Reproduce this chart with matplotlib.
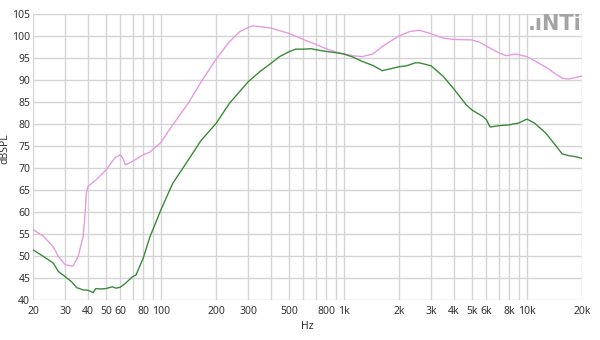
import numpy as np
import matplotlib
matplotlib.use('Agg')
import matplotlib.pyplot as plt
from matplotlib.ticker import FixedLocator, NullFormatter

plt.rcParams['font.family'] = ['Noto Sans', 'DejaVu Sans']

# pink trace (freq in Hz, level in dB SPL)
freq_pink = [20, 22.8, 25.8, 27.5, 30, 33, 35.3, 37.6, 38.4, 39.2, 40, 45, 50, 56.3, 60, 62,
             64, 70, 80, 87, 100, 116, 141, 166, 200, 237, 270, 300, 318, 350, 400, 445,
             500, 600, 700, 800, 900, 1000, 1120, 1260, 1440, 1620, 2000, 2290, 2580,
             3000, 3490, 4000, 5000, 5500, 6000, 7000, 7700, 8700, 10000, 11200, 12700,
             14300, 15600, 16900, 20000]
spl_pink = [56.0, 54.5, 52.1, 49.9, 48.0, 47.7, 49.9, 54.5, 58.8, 64.5, 65.8, 67.6, 69.5, 72.4,
            73.0, 72.2, 70.7, 71.5, 73.0, 73.6, 75.8, 79.8, 84.7, 89.6, 94.7, 98.7, 101.0,
            101.9, 102.3, 102.1, 101.8, 101.2, 100.6, 99.2, 98.1, 97.1, 96.4, 95.9, 95.5,
            95.3, 95.9, 97.6, 100.0, 101.0, 101.3, 100.5, 99.5, 99.2, 99.1, 98.6, 97.7,
            96.2, 95.5, 95.9, 95.3, 94.2, 92.9, 91.4, 90.4, 90.2, 90.9]

# green trace
freq_green = [20, 22.8, 25.8, 27.5, 30, 32.4, 34.7, 37.6, 40, 42.6, 44.1, 47, 50, 54.2, 56.8,
              60, 64, 70, 73.1, 80, 87, 100, 116, 141, 166, 200, 237, 300, 350, 400, 445,
              500, 545, 600, 660, 740, 800, 900, 1000, 1120, 1260, 1440, 1620, 1780, 2000,
              2190, 2460, 2580, 3000, 3490, 4000, 4650, 5000, 5740, 6000, 6300, 7000, 8000,
              9000, 10000, 11000, 12700, 14300, 15600, 16900, 18300, 20000]
spl_green = [51.4, 49.9, 48.4, 46.5, 45.3, 44.2, 42.8, 42.3, 42.2, 41.7, 42.6, 42.5, 42.6, 43.0,
             42.7, 42.9, 43.8, 45.3, 45.7, 49.5, 54.3, 60.5, 66.5, 71.8, 76.3, 80.1, 84.7,
             89.6, 92.0, 93.8, 95.3, 96.4, 97.0, 97.0, 97.1, 96.7, 96.5, 96.2, 95.9, 95.2,
             94.2, 93.3, 92.1, 92.5, 93.0, 93.2, 93.9, 93.9, 93.2, 90.8, 87.9, 84.4, 83.2,
             81.7, 81.0, 79.3, 79.6, 79.8, 80.2, 81.1, 80.2, 77.9, 75.2, 73.2, 72.8, 72.6,
             72.2]

xtick_vals = [20, 30, 40, 50, 60, 80, 100, 200, 300, 500, 800, 1000, 2000, 3000, 4000,
              5000, 6000, 8000, 10000, 20000]
xtick_labels = ['20', '30', '40', '50', '60', '80', '100', '200', '300', '500', '800', '1k',
                '2k', '3k', '4k', '5k', '6k', '8k', '10k', '20k']
xgrid_vals = [20, 30, 40, 50, 60, 70, 80, 90, 100, 200, 300, 400, 500, 600, 700, 800, 900,
              1000, 2000, 3000, 4000, 5000, 6000, 7000, 8000, 9000, 10000, 20000]

fig = plt.figure(figsize=(6, 3.4), dpi=100)
ax = fig.add_axes([0.055, 0.1176, 0.915, 0.8414])

# vertical grid lines drawn on every decade step
for g in xgrid_vals:
    ax.axvline(g, color='#d4d4d4', lw=1.0, zorder=0)

ax.plot(freq_pink, spl_pink, color='#e59be0', lw=1.0)
ax.plot(freq_green, spl_green, color='#3a8a3a', lw=1.0)

ax.set_xscale('log')
ax.set_xlim(20, 20000)
ax.set_ylim(40, 105)

ax.xaxis.set_major_locator(FixedLocator(xtick_vals))
ax.set_xticklabels(xtick_labels)
ax.xaxis.set_minor_locator(FixedLocator([]))
ax.xaxis.set_minor_formatter(NullFormatter())
ax.set_yticks(np.arange(40, 106, 5))

ax.grid(True, which='major', axis='y', color='#d4d4d4', lw=1.0)
ax.set_axisbelow(True)
for s in ax.spines.values():
    s.set_visible(False)
ax.tick_params(which='both', length=0, labelsize=7.5, colors='#333333')
ax.tick_params(axis='x', pad=4)
ax.tick_params(axis='y', pad=2)

ax.set_xlabel('Hz', fontsize=7.5, color='#333333', labelpad=3)
ax.set_ylabel('dBSPL', fontsize=7.5, color='#333333')
ax.yaxis.set_label_coords(-0.042, 0.53)

# logo
fig.text(0.97, 0.928, '.ıNTi', ha='right', va='center', fontsize=15,
         family='DejaVu Sans', fontweight='bold', color='#a4a4a4')

fig.savefig('out.png', dpi=100)
